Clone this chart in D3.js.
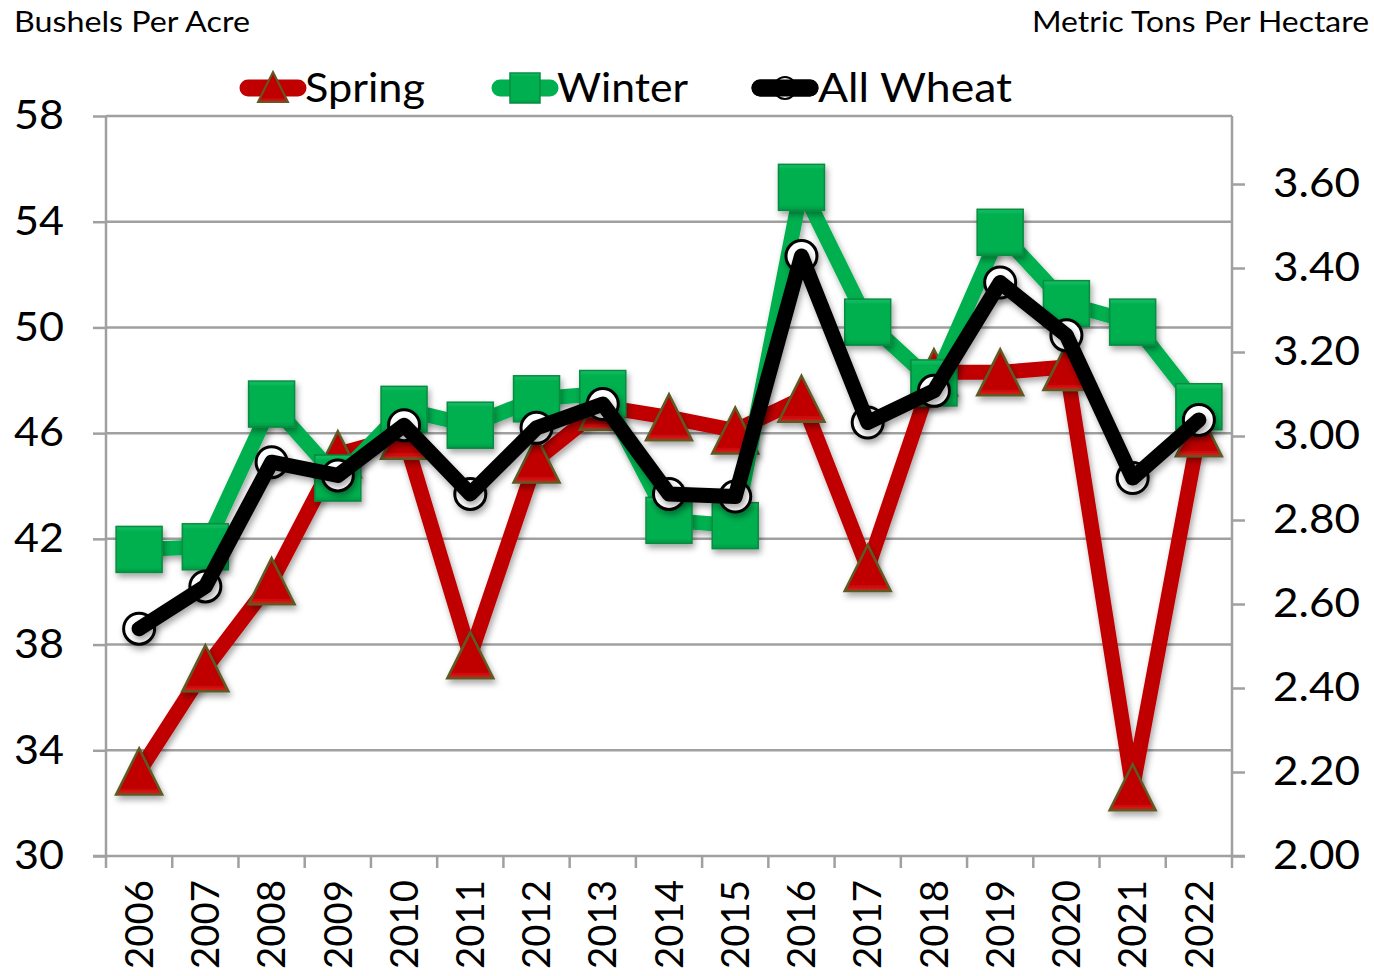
<!DOCTYPE html>
<html><head><meta charset="utf-8">
<script src="https://cdn.jsdelivr.net/npm/d3@7"></script>
<style>
body{margin:0;background:#fff;}
svg{display:block;font-family:"Lato","Noto Sans",sans-serif;}
</style></head>
<body>
<svg id="chart" width="1374" height="976"></svg>
<script>
const years = ["2006","2007","2008","2009","2010","2011","2012","2013","2014","2015","2016","2017","2018","2019","2020","2021","2022"];
const spring = [33.2,37.1,40.4,45.2,45.9,37.6,45.0,47.0,46.6,46.1,47.3,40.9,48.3,48.3,48.5,32.6,46.0];
const winter = [41.6,41.7,47.1,44.3,46.9,46.3,47.3,47.5,42.7,42.5,55.3,50.2,47.9,53.6,50.9,50.2,47.0];
const allWheat = [38.6,40.2,44.9,44.4,46.3,43.7,46.2,47.1,43.7,43.6,52.7,46.4,47.6,51.7,49.7,44.3,46.5];
const leftTicks = [30,34,38,42,46,50,54,58];
const rightTicks = [2.00,2.20,2.40,2.60,2.80,3.00,3.20,3.40,3.60];
const seriesNames = ["Spring","Winter","All Wheat"];

const svg = d3.select("#chart");
const L = 106, R = 1232, T = 116, B = 856;
const x = d3.scaleBand().domain(years).range([L, R]);
const y = d3.scaleLinear().domain([30, 58]).range([B, T]);
const y2 = d3.scaleLinear().domain([2.0, 3.6]).range([B, 184]);
const grid = "#a0a0a0";

const defs = svg.append("defs");
const f = defs.append("filter").attr("id","sh").attr("x","-50%").attr("y","-50%").attr("width","200%").attr("height","200%");
f.append("feDropShadow").attr("dx",2).attr("dy",4).attr("stdDeviation",3).attr("flood-color","#000").attr("flood-opacity",0.35);
const gG = defs.append("linearGradient").attr("id","gg").attr("x1",0).attr("y1",0).attr("x2",0).attr("y2",1);
gG.append("stop").attr("offset","0").attr("stop-color","#16c063");
gG.append("stop").attr("offset","0.12").attr("stop-color","#00b050");
gG.append("stop").attr("offset","0.88").attr("stop-color","#00b050");
gG.append("stop").attr("offset","1").attr("stop-color","#009a45");
const gR = defs.append("linearGradient").attr("id","gr").attr("x1",0).attr("y1",0).attr("x2",0).attr("y2",1);
gR.append("stop").attr("offset","0").attr("stop-color","#c00000");
gR.append("stop").attr("offset","0.85").attr("stop-color","#c00000");
gR.append("stop").attr("offset","1").attr("stop-color","#e02020");

// titles
svg.append("text").attr("x",14).attr("y",32).attr("font-size",28).attr("fill","#000")
  .attr("textLength",236).attr("lengthAdjust","spacingAndGlyphs").text("Bushels Per Acre");
svg.append("text").attr("x",1032).attr("y",32).attr("font-size",28).attr("fill","#000")
  .attr("textLength",337).attr("lengthAdjust","spacingAndGlyphs").text("Metric Tons Per Hectare");

// gridlines
svg.append("g").selectAll("line").data(leftTicks.filter(d=>d>30)).join("line")
  .attr("x1",L).attr("x2",R).attr("y1",d=>y(d)).attr("y2",d=>y(d))
  .attr("stroke",grid).attr("stroke-width",2.5);

// left axis
const ax = d3.axisLeft(y).tickValues(leftTicks).tickSize(13).tickPadding(28).tickFormat(d3.format("d"));
const gl = svg.append("g").attr("transform",`translate(${L},0)`).call(ax);
gl.select(".domain").attr("stroke",grid).attr("stroke-width",2.5).attr("d",`M-13,${B}H0V${T}`);
gl.selectAll(".tick line").attr("stroke",grid).attr("stroke-width",2.5);
gl.selectAll(".tick text").attr("font-size",40).attr("fill","#000").attr("font-family","Lato,sans-serif")
  .attr("text-anchor","start").attr("x",-92).attr("textLength",50).attr("lengthAdjust","spacingAndGlyphs");

// right axis
const ar = d3.axisRight(y2).tickValues(rightTicks).tickSize(13).tickPadding(28).tickFormat(d3.format(".2f"));
const gr = svg.append("g").attr("transform",`translate(${R},0)`).call(ar);
gr.select(".domain").attr("stroke",grid).attr("stroke-width",2.5).attr("d",`M0,${T}V${B}H13`);
gr.selectAll(".tick line").attr("stroke",grid).attr("stroke-width",2.5);
gr.selectAll(".tick text").attr("font-size",40).attr("fill","#000").attr("font-family","Lato,sans-serif")
  .attr("textLength",87).attr("lengthAdjust","spacingAndGlyphs");

// bottom axis
const ab = d3.axisBottom(x).tickSize(0).tickPadding(0);
const gb = svg.append("g").attr("transform",`translate(0,${B})`).call(ab);
gb.select(".domain").attr("stroke",grid).attr("stroke-width",2.5).attr("d",`M${L},0H${R}`);
gb.selectAll(".tick text").attr("font-size",38).attr("fill","#000").attr("font-family","Lato,sans-serif")
  .attr("transform","rotate(-90)").attr("text-anchor","end").attr("x",-24).attr("y",0).attr("dy","0.36em")
  .attr("textLength",89).attr("lengthAdjust","spacingAndGlyphs");
svg.append("g").selectAll("line").data(d3.range(years.length+1)).join("line")
  .attr("x1",i=>L+i*x.step()).attr("x2",i=>L+i*x.step()).attr("y1",B).attr("y2",B+12)
  .attr("stroke",grid).attr("stroke-width",2.5);

// series
const line = d3.line().x((d,i)=>x(years[i])+x.bandwidth()/2).y(d=>y(d));
const cx = i => x(years[i])+x.bandwidth()/2;
const triPath = (s) => `M0,${-s/2}L${s/2},${s/2}L${-s/2},${s/2}Z`;

function drawTri(g, px, py, s){
  g.append("path").attr("d",triPath(s)).attr("transform",`translate(${px},${py})`)
   .attr("fill","url(#gr)").attr("stroke","#5f5a24").attr("stroke-width",2.5).attr("stroke-linejoin","miter").attr("filter","url(#sh)");
}
function drawSq(g, px, py, s){
  g.append("rect").attr("x",px-s/2).attr("y",py-s/2).attr("width",s).attr("height",s)
   .attr("fill","url(#gg)").attr("stroke","#0a8a40").attr("stroke-width",1.5).attr("filter","url(#sh)");
}
function drawCirc(g, px, py, r){
  g.append("circle").attr("cx",px).attr("cy",py).attr("r",r)
   .attr("fill","#fff").attr("stroke","#000").attr("stroke-width",3).attr("filter","url(#sh)");
}

// Spring
const gs = svg.append("g");
gs.append("path").datum(spring).attr("d",line).attr("fill","none").attr("stroke","#c00000").attr("stroke-width",15).attr("stroke-linejoin","round").attr("stroke-linecap","round").attr("filter","url(#sh)");
spring.forEach((v,i)=>drawTri(gs, cx(i), y(v), 46));
// Winter
const gw = svg.append("g");
gw.append("path").datum(winter).attr("d",line).attr("fill","none").attr("stroke","#00b050").attr("stroke-width",15).attr("stroke-linejoin","round").attr("stroke-linecap","round").attr("filter","url(#sh)");
winter.forEach((v,i)=>drawSq(gw, cx(i), y(v), 46));
// All wheat: markers beneath the line
const ga = svg.append("g");
allWheat.forEach((v,i)=>drawCirc(ga, cx(i), y(v), 15.5));
ga.append("path").datum(allWheat).attr("d",line).attr("fill","none").attr("stroke","#000").attr("stroke-width",15).attr("stroke-linejoin","round").attr("stroke-linecap","round").attr("filter","url(#sh)");

// legend
const lg = svg.append("g");
const legItems = [
  {name:seriesNames[0], x0:248, x1:298, col:"#c00000", mk:"tri", tx:305, w:120},
  {name:seriesNames[1], x0:500, x1:550, col:"#00b050", mk:"sq", tx:557, w:131},
  {name:seriesNames[2], x0:760, x1:810, col:"#000", mk:"circ", tx:818, w:194}
];
const LY = 88;
legItems.forEach(it=>{
  lg.append("line").attr("x1",it.x0).attr("x2",it.x1).attr("y1",LY).attr("y2",LY)
    .attr("stroke",it.col).attr("stroke-width",17).attr("stroke-linecap","round");
  const mx = (it.x0+it.x1)/2;
  if(it.mk==="tri") lg.append("path").attr("d",triPath(30)).attr("transform",`translate(${mx},${LY-1})`).attr("fill","url(#gr)").attr("stroke","#5f5a24").attr("stroke-width",2);
  if(it.mk==="sq") lg.append("rect").attr("x",mx-15).attr("y",LY-15).attr("width",30).attr("height",30).attr("fill","url(#gg)").attr("stroke","#0a8a40").attr("stroke-width",1.5);
  if(it.mk==="circ") lg.append("circle").attr("cx",mx).attr("cy",LY).attr("r",11).attr("fill","#fff").attr("stroke","#000").attr("stroke-width",2);
  if(it.mk==="circ") lg.append("line").attr("x1",it.x0).attr("x2",it.x1).attr("y1",LY).attr("y2",LY).attr("stroke",it.col).attr("stroke-width",17).attr("stroke-linecap","round");
  lg.append("text").attr("x",it.tx).attr("y",LY).attr("dy","0.36em").attr("font-size",40).attr("fill","#000")
    .attr("textLength",it.w).attr("lengthAdjust","spacingAndGlyphs").text(it.name);
});
</script>
</body></html>
